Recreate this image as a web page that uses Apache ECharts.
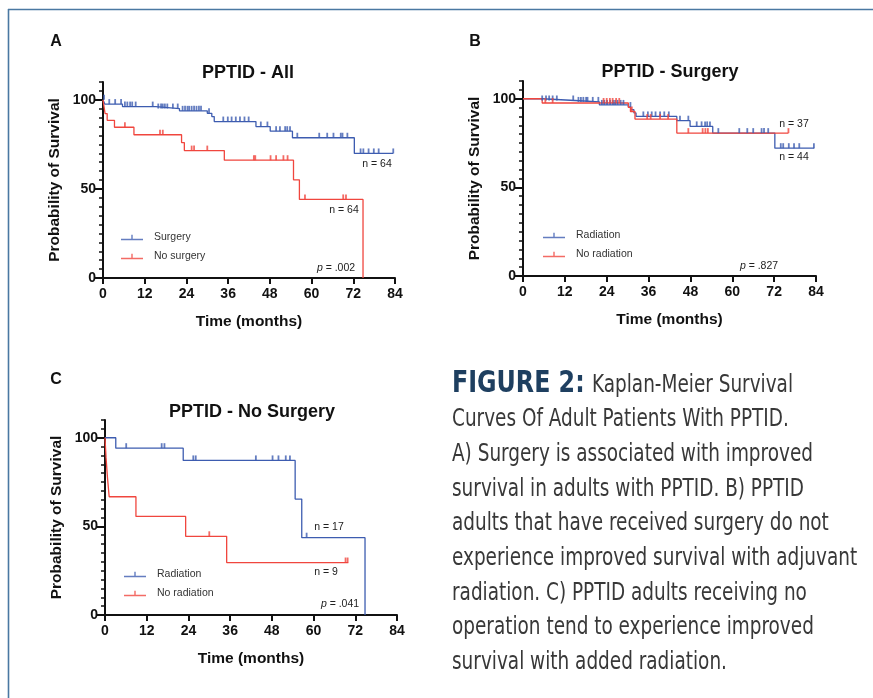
<!DOCTYPE html>
<html>
<head>
<meta charset="utf-8">
<script src="https://cdn.jsdelivr.net/npm/echarts@6/dist/echarts.min.js"></script>
<style>
html, body { margin: 0; padding: 0; background: #fff; }
#main { width: 873px; height: 698px; }
</style>
</head>
<body>
<div id="main"></div>
<script>
// A - PPTID All
var aSurgeryTimes = [0, 0.5, 5.6, 15.2, 22.0, 30.0, 31.3, 32.0, 44.0, 48.1, 54.5, 72.3, 83.5];
var aSurgerySurv = [100, 97.6, 96.2, 95.1, 93.8, 92.4, 90.6, 87.8, 85.0, 82.4, 78.7, 69.9, 69.9];
var aSurgeryCensor = [0.3, 1.8, 3.5, 5.2, 6.3, 7.0, 7.8, 8.4, 9.4, 14.3, 15.9, 16.7, 17.2, 17.8, 18.5, 20.1, 21.5,
  22.9, 23.6, 24.3, 24.8, 25.5, 26.2, 26.9, 27.6, 28.2, 30.5, 34.6, 35.9, 37.0, 38.2, 39.4, 40.7, 41.9,
  45.4, 47.3, 49.8, 50.9, 52.4, 53.0, 53.8, 55.9, 62.2, 64.5, 66.3, 68.4, 68.9, 70.3,
  74.1, 74.9, 76.4, 77.9, 79.3, 83.5];
var aNoSurgeryTimes = [0, 0.3, 0.6, 1.2, 3.3, 8.9, 22.6, 23.4, 34.9, 54.8, 56.5, 74.8];
var aNoSurgerySurv = [100, 96.0, 92.3, 88.5, 84.6, 80.4, 76.0, 71.5, 66.1, 55.1, 44.1, 0];
var aNoSurgeryCensor = [6.3, 16.4, 17.2, 25.5, 26.2, 30.0, 43.4, 43.8, 48.2, 49.8, 51.9, 53.1, 58.1, 69.1, 69.9];

// B - PPTID Surgery
var bRadTimes = [0, 5.5, 14.9, 21.9, 30.2, 30.9, 31.8, 32.4, 44.1, 47.9, 54.4, 72.2, 83.5];
var bRadSurv = [100, 99.0, 98.2, 96.5, 95.3, 93.8, 92.0, 90.0, 87.6, 84.4, 80.6, 72.1, 72.1];
var bRadCensor = [5.5, 6.6, 7.5, 8.5, 9.7, 14.4, 15.9, 16.6, 17.3, 18.1, 18.5, 20.0, 21.6,
  22.6, 23.3, 24.1, 25.0, 25.8, 26.4, 27.1, 28.0, 28.8, 30.8, 34.5, 35.8, 36.9, 38.0, 39.3, 40.5, 41.8,
  45.0, 47.4, 49.8, 51.2, 52.2, 52.8, 53.6, 56.0, 62.0, 64.3, 66.0, 68.4, 69.1, 70.3,
  73.9, 74.6, 76.2, 77.7, 79.2, 83.4];
var bNoRadTimes = [0, 5.5, 30.2, 30.8, 32.1, 44.1, 76.1];
var bNoRadSurv = [100, 97.6, 95.2, 92.8, 88.5, 80.6, 80.6];
var bNoRadCensor = [6.4, 8.5, 23.1, 24.0, 24.9, 25.7, 26.7, 27.6, 31.2, 35.6, 36.6, 39.3, 41.6, 47.4, 51.5, 52.3, 53.0, 76.1];

// C - PPTID No Surgery
var cRadTimes = [0, 3.1, 22.5, 54.7, 56.6, 74.8];
var cRadSurv = [100, 94.1, 87.2, 65.4, 43.6, 0];
var cRadCensor = [6.1, 16.3, 17.1, 25.4, 26.1, 43.4, 48.2, 49.9, 52.0, 53.2, 58.0];
var cNoRadTimes = [0, 0.3, 0.7, 1.2, 8.9, 23.2, 35.0, 70.0];
var cNoRadSurv = [100, 88.9, 77.8, 66.7, 55.6, 44.4, 29.6, 29.6];
var cNoRadCensor = [30.0, 69.2, 69.8];

var panelTitles = ['PPTID - All', 'PPTID - Surgery', 'PPTID - No Surgery'];
var legendNames = [['Surgery', 'No surgery'], ['Radiation', 'No radiation'], ['Radiation', 'No radiation']];
var captionLines = [
  'Curves Of Adult Patients With PPTID.',
  'A) Surgery is associated with improved',
  'survival in adults with PPTID. B) PPTID',
  'adults that have received surgery do not',
  'experience improved survival with adjuvant',
  'radiation. C) PPTID adults receiving no',
  'operation tend to experience improved',
  'survival with added radiation.'
];

var BLUE = '#3d5cb0';
var RED = '#f0463e';
var FONT = '"Liberation Sans", Arial, sans-serif';
var NARROW = '"DejaVu Sans Condensed", "DejaVu Sans", sans-serif';

function km(times, surv) {
  return times.map(function (t, i) { return [t, surv[i]]; });
}
function survAt(times, surv, t) {
  var v = surv[0];
  for (var i = 0; i < times.length; i++) {
    if (times[i] <= t) v = surv[i];
  }
  return v;
}
function censors(ct, times, surv) {
  return ct.map(function (t) { return [t, survAt(times, surv, t)]; });
}

var grids = [
  { left: 103, top: 82, width: 292, height: 196 },
  { left: 523, top: 81, width: 293, height: 195 },
  { left: 105, top: 420, width: 292, height: 195 }
];

var xAxes = [], yAxes = [];
grids.forEach(function (g, i) {
  xAxes.push({
    gridIndex: i, type: 'value', min: 0, max: 84, interval: 12,
    axisLine: { lineStyle: { color: '#111', width: 2 } },
    axisTick: { length: 6, lineStyle: { color: '#111', width: 2 } },
    axisLabel: { fontSize: 14, fontWeight: 'bold', color: '#111', margin: 9, fontFamily: FONT },
    splitLine: { show: false },
    name: 'Time (months)', nameLocation: 'middle', nameGap: 36,
    nameTextStyle: { fontSize: 15.5, fontWeight: 'bold', color: '#111', fontFamily: FONT }
  });
});
grids.forEach(function (g, i) {
  yAxes.push({
    gridIndex: i, type: 'value', position: 'left', min: 0, max: 110,
    axisLine: { lineStyle: { color: '#111', width: 2 } },
    axisTick: { length: 8, customValues: [0, 50, 100], lineStyle: { color: '#111', width: 2 } },
    axisLabel: { customValues: [0, 50, 100], fontSize: 14, fontWeight: 'bold', color: '#111', margin: 7, fontFamily: FONT },
    splitLine: { show: false },
    name: 'Probability of Survival', nameLocation: 'middle', nameGap: 40,
    nameTextStyle: { fontSize: 15.5, fontWeight: 'bold', color: '#111', fontFamily: FONT }
  });
});
grids.forEach(function (g, i) {
  yAxes.push({
    gridIndex: i, type: 'value', position: 'left', min: 0, max: 110, interval: 5,
    axisLine: { show: false },
    axisTick: { length: 4, lineStyle: { color: '#111', width: 1.5 } },
    axisLabel: { show: false },
    splitLine: { show: false }
  });
});

function pair(idx, name, color, times, surv, ct) {
  return [
    {
      name: name, type: 'scatter', xAxisIndex: idx, yAxisIndex: idx,
      data: censors(ct, times, surv),
      symbol: 'rect', symbolSize: [1.8, 5], symbolOffset: [0, -2.5],
      itemStyle: { color: color }, z: 3, silent: true
    },
    {
      name: name, type: 'line', xAxisIndex: idx, yAxisIndex: idx,
      data: km(times, surv), step: 'end', showSymbol: false, symbol: 'none',
      lineStyle: { color: color, width: 1.3 }, itemStyle: { color: color }, z: 2, silent: true
    }
  ];
}

var series = [].concat(
  pair(0, 'Surgery', BLUE, aSurgeryTimes, aSurgerySurv, aSurgeryCensor),
  pair(0, 'No surgery', RED, aNoSurgeryTimes, aNoSurgerySurv, aNoSurgeryCensor),
  pair(1, 'Radiation', BLUE, bRadTimes, bRadSurv, bRadCensor),
  pair(1, 'No radiation', RED, bNoRadTimes, bNoRadSurv, bNoRadCensor),
  pair(2, 'Radiation', BLUE, cRadTimes, cRadSurv, cRadCensor),
  pair(2, 'No radiation', RED, cNoRadTimes, cNoRadSurv, cNoRadCensor)
);

var legendPos = [[121, 232], [543, 230], [124, 569]];
var legendIcon = 'path://M0,5 L22,5 L22,6.3 L0,6.3 Z M10.3,1 L11.7,1 L11.7,5 L10.3,5 Z';
var legends = legendNames.map(function (names, i) {
  return {
    data: names, left: legendPos[i][0], top: legendPos[i][1], orient: 'vertical',
    icon: legendIcon, itemWidth: 22, itemHeight: 5.3, itemGap: 8, padding: 0,
    selectedMode: false,
    textStyle: { fontSize: 10.5, color: '#333', fontFamily: FONT, padding: [0, 0, 0, 6] }
  };
});

function label(text, x, y, size, bold, align) {
  return {
    type: 'text', x: x, y: y, silent: true,
    style: {
      text: text, fontSize: size, fontWeight: bold ? 'bold' : 'normal', fontFamily: FONT,
      fill: bold ? '#111' : '#222', align: align || 'center', verticalAlign: 'middle'
    }
  };
}
function pText(text, x, y) {
  return {
    type: 'text', x: x, y: y, silent: true,
    style: {
      text: '{i|p} = ' + text, fontSize: 10.5, fontFamily: FONT, fill: '#222',
      align: 'center', verticalAlign: 'middle',
      rich: { i: { fontStyle: 'italic', fontSize: 10.5, fontFamily: FONT, fill: '#222' } }
    }
  };
}
function captionText(text, x, y, size, bold, color, sx) {
  return {
    type: 'text', x: x, y: y, scaleX: sx, silent: true,
    style: {
      text: text, fontSize: size, fontWeight: bold ? 'bold' : 'normal', fontFamily: NARROW,
      fill: color, verticalAlign: 'middle'
    }
  };
}

var graphics = [
  { type: 'line', silent: true, shape: { x1: 8, y1: 9.5, x2: 873, y2: 9.5 }, style: { stroke: '#4a78a2', lineWidth: 1.6 } },
  { type: 'line', silent: true, shape: { x1: 8.5, y1: 9, x2: 8.5, y2: 698 }, style: { stroke: '#4a78a2', lineWidth: 1.6 } },
  label('A', 56, 42, 16, true),
  label('B', 475, 42, 16, true),
  label('C', 56, 380, 16, true),
  label(panelTitles[0], 248, 73, 18, true),
  label(panelTitles[1], 670, 72, 18, true),
  label(panelTitles[2], 252, 412, 18, true),
  label('n = 64', 377, 164, 10.5, false),
  label('n = 64', 344, 210, 10.5, false),
  pText('.002', 336, 268),
  label('n = 37', 794, 124, 10.5, false),
  label('n = 44', 794, 157, 10.5, false),
  pText('.827', 759, 266),
  label('n = 17', 329, 527, 10.5, false),
  label('n = 9', 326, 572, 10.5, false),
  pText('.041', 340, 604),
  captionText('FIGURE 2:', 452, 384, 30, true, '#1e3f60', 0.88),
  captionText('Kaplan-Meier Survival', 592, 385, 25, false, '#383838', 0.82)
];
captionLines.forEach(function (line, k) {
  graphics.push(captionText(line, 452, 385 + (k + 1) * 34.7, 25, false, '#383838', 0.82));
});

var chart = echarts.init(document.getElementById('main'), null, { renderer: 'canvas' });
chart.setOption({
  backgroundColor: '#ffffff',
  animation: false,
  grid: grids,
  xAxis: xAxes,
  yAxis: yAxes,
  legend: legends,
  series: series,
  graphic: graphics
});
</script>
</body>
</html>
